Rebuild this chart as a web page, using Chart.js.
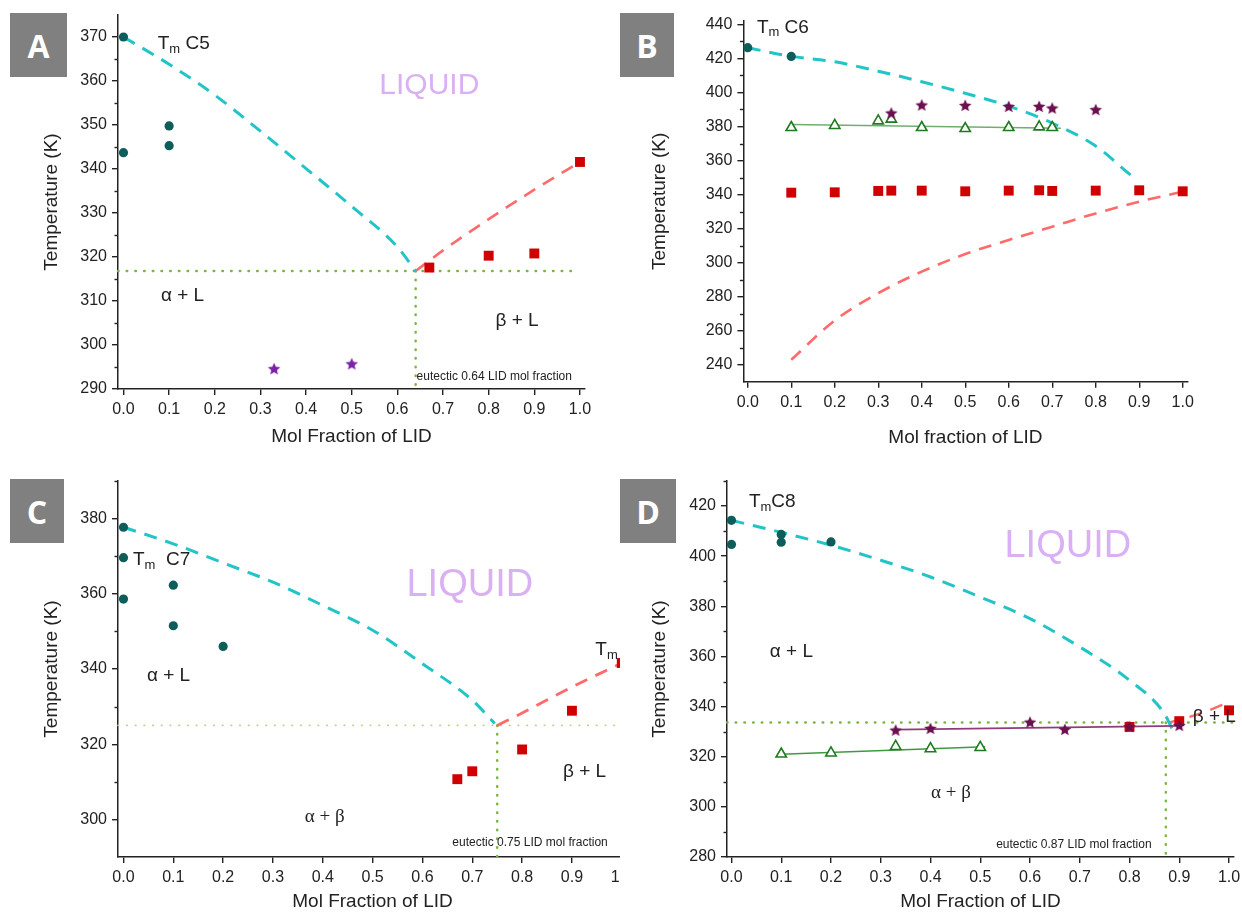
<!DOCTYPE html>
<html>
<head>
<meta charset="utf-8">
<script src="https://cdn.jsdelivr.net/npm/chart.js@4/dist/chart.umd.min.js"></script>
<style>
  html, body { margin: 0; padding: 0; background: #fff; overflow: hidden; width: 1242px; height: 913px; position: relative; }
  canvas { position: absolute; }
  #cD { background: #fff; }
  .badge { position: absolute; background: #808080; color: #fff; font: bold 32px "Open Sans", sans-serif;
           display: flex; align-items: center; justify-content: center; }
</style>
</head>
<body>
<canvas id="cA"></canvas>
<canvas id="cB"></canvas>
<canvas id="cC"></canvas>
<canvas id="cD"></canvas>
<div class="badge" style="left:10px;top:13px;width:57px;height:64px">A</div>
<div class="badge" style="left:620px;top:13px;width:54px;height:64px">B</div>
<div class="badge" style="left:10px;top:479px;width:54px;height:64px">C</div>
<div class="badge" style="left:620px;top:479px;width:56px;height:64px">D</div>
<script>
// shared ticks
const xTicks = [0, 0.1, 0.2, 0.3, 0.4, 0.5, 0.6, 0.7, 0.8, 0.9, 1.0];

// A : C5 + LID
const aYTicks = [290, 300, 310, 320, 330, 340, 350, 360, 370];
const aYMinor = [295, 305, 315, 325, 335, 345, 355, 365];
const aCircles = [[0, 370], [0, 343.7], [0.1, 349.8], [0.1, 345.3]];
const aSquares = [[0.67, 317.6], [0.8, 320.3], [0.9, 320.8], [1.0, 341.6]];
const aStars = [[0.33, 294.5], [0.5, 295.6]];
const aLiquidus = [[0, 370], [0.1, 363.8], [0.2, 356.8], [0.3, 348.6], [0.4, 340.1], [0.5, 331.5], [0.6, 322.3], [0.64, 316.8]];
const aSolidus = [[0.64, 316.8], [0.7, 321.5], [0.8, 328.6], [0.9, 335.3], [1.0, 341.6]];
const aEutH = [[-0.012, 316.8], [0.995, 316.8]];
const aEutV = [[0.64, 316.8], [0.64, 290]];

// B : C6 + LID
const bYTicks = [240, 260, 280, 300, 320, 340, 360, 380, 400, 420, 440];
const bYMinor = [250, 270, 290, 310, 330, 350, 370, 390, 410, 430];
const bCircles = [[0, 426.3], [0.1, 421.2]];
const bTriangles = [[0.1, 379.4], [0.2, 380.6], [0.3, 383.3], [0.33, 384.3], [0.4, 379.4], [0.5, 378.8], [0.6, 379.4], [0.67, 379.8], [0.7, 379.4]];
const bStars = [[0.33, 387.6], [0.4, 392.3], [0.5, 392.1], [0.6, 391.5], [0.67, 391.5], [0.7, 390.5], [0.8, 389.6]];
const bSquares = [[0.1, 341.1], [0.2, 341.3], [0.3, 342.1], [0.33, 342.3], [0.4, 342.3], [0.5, 341.9], [0.6, 342.3], [0.67, 342.5], [0.7, 342.1], [0.8, 342.3], [0.9, 342.5], [1.0, 341.9]];
const bTrend = [[0.1, 381.2], [0.72, 379.0]];
const bLiquidus = [[0, 426.3], [0.1, 421.2], [0.2, 418], [0.3, 412.5], [0.4, 406.3], [0.5, 399.5], [0.6, 392], [0.7, 382], [0.8, 368.5], [0.88, 351.5]];
const bSolidus = [[0.1, 242.9], [0.2, 266], [0.3, 282], [0.4, 294.7], [0.5, 305], [0.6, 313.3], [0.7, 321.1], [0.8, 328.9], [0.9, 335.8], [1.0, 341.7]];

// C : C7 + LID
const cYTicks = [300, 320, 340, 360, 380];
const cYMinor = [310, 330, 350, 370, 390];
const cCircles = [[0, 377.7], [0, 369.6], [0, 358.6], [0.1, 362.3], [0.1, 351.5], [0.2, 346]];
const cSquares = [[0.67, 310.7], [0.7, 312.8], [0.8, 318.6], [0.9, 328.9], [1.0, 341.6]];
const cLiquidus = [[0, 377.7], [0.1, 373.3], [0.2, 368.2], [0.3, 363.1], [0.4, 356.9], [0.5, 350.3], [0.6, 341.4], [0.7, 331.7], [0.745, 325.5]];
const cSolidus = [[0.75, 325], [0.8, 328.3], [0.9, 335.2], [1.0, 341.6]];
const cEutH = [[-0.011, 325], [1.01, 325]];
const cEutV = [[0.75, 325], [0.75, 290]];

// D : C8 + LID
const dYTicks = [280, 300, 320, 340, 360, 380, 400, 420];
const dYMinor = [290, 310, 330, 350, 370, 390, 410, 430];
const dCircles = [[0, 414.3], [0, 404.7], [0.1, 408.7], [0.1, 405.6], [0.2, 405.7]];
const dTriangles = [[0.1, 321.1], [0.2, 321.5], [0.33, 324.1], [0.4, 323.2], [0.5, 323.7]];
const dStars = [[0.33, 330.4], [0.4, 331.1], [0.6, 333.6], [0.67, 330.7], [0.8, 331.8], [0.9, 332.3]];
const dSquares = [[0.8, 331.9], [0.9, 334.2], [1.0, 338.5]];
const dTrendG = [[0.1, 321.0], [0.51, 324.0]];
const dTrendM = [[0.33, 330.8], [0.9, 332.3]];
const dLiquidus = [[0, 414.3], [0.1, 409.5], [0.2, 404.4], [0.3, 398.4], [0.4, 391.7], [0.5, 383.7], [0.6, 375.1], [0.7, 363.8], [0.8, 350.5], [0.87, 337.2], [0.89, 329.2]];
const dSolidus = [[0.878, 333.5], [0.95, 337.8], [0.99, 341]];
const dEutH = [[-0.009, 333.7], [1.01, 333.7]];
const dEutV = [[0.873, 333.7], [0.873, 280]];

const F = '"Liberation Sans", Arial, sans-serif';
const SERIF = '"Liberation Serif", "Times New Roman", serif';
const TEAL = '#0d5e5b', RED = '#d10000', CYAN = '#22c4c8', SALMON = '#ff6a6a', DOT = '#7ab640';
const LILAC = '#dab0f4';

function starImg(color, r) {
  const c = document.createElement('canvas');
  const s = Math.ceil(r * 2) + 2;
  c.width = c.height = s;
  const g = c.getContext('2d');
  g.fillStyle = color;
  g.beginPath();
  for (let i = 0; i < 10; i++) {
    const rr = i % 2 ? r * 0.45 : r;
    const a = -Math.PI / 2 + i * Math.PI / 5;
    g.lineTo(s / 2 + rr * Math.cos(a), s / 2 + rr * Math.sin(a));
  }
  g.closePath();
  g.fill();
  return c;
}

const pts = a => a.map(([x, y]) => ({x, y}));
const circles = d => ({data: pts(d), pointStyle: 'circle', pointRadius: 4.6, backgroundColor: TEAL, borderColor: TEAL, borderWidth: 0, order: 1, clip: false});
const squares = d => ({data: pts(d), pointStyle: 'rect', pointRadius: 7, backgroundColor: RED, borderColor: RED, borderWidth: 0, order: 1, clip: false});
const stars = (d, col) => ({data: pts(d), pointStyle: starImg(col, 6.6), order: 0, clip: false});
const triangles = d => ({data: pts(d), pointStyle: 'triangle', pointRadius: 6, backgroundColor: '#fff', borderColor: '#1f7a1f', borderWidth: 1.6, order: 1, clip: false});
const line = (d, col, w, dash, smooth) => ({data: pts(d), showLine: true, pointRadius: 0, borderColor: col, borderWidth: w,
  borderDash: dash || [], borderCapStyle: 'butt', cubicInterpolationMode: smooth ? 'monotone' : 'default', order: 5, clip: false});
const dotted = (d, col, w) => ({data: pts(d), showLine: true, pointRadius: 0, borderColor: col || DOT, borderWidth: w || 2.5,
  borderDash: [0.5, 8.2], borderCapStyle: 'round', order: 6, clip: false});

const tm = (rest) => [{s: 'T', size: 19}, {s: 'm', size: 13, dy: 5}, {s: rest, size: 19}];
const txt = (s, size, family) => [{s, size, family}];

// region labels + short minor ticks on the y axis
const notePlugin = {
  id: 'notes',
  afterDatasetsDraw(chart, args, opts) {
    const {ctx} = chart, sx = chart.scales.x, sy = chart.scales.y;
    ctx.save();
    ctx.strokeStyle = '#222';
    ctx.lineWidth = 1.4;
    (opts.minor || []).forEach(v => {
      const py = Math.round(sy.getPixelForValue(v)) + 0.5;
      ctx.beginPath();
      ctx.moveTo(sx.left - 3.5, py);
      ctx.lineTo(sx.left, py);
      ctx.stroke();
    });
    ctx.textBaseline = 'middle';
    ctx.textAlign = 'left';
    (opts.items || []).forEach(n => {
      let px = sx.getPixelForValue(n.x);
      const py = sy.getPixelForValue(n.y);
      ctx.fillStyle = n.color || '#222';
      let total = 0;
      n.parts.forEach(p => { ctx.font = p.size + 'px ' + (p.family || F); total += ctx.measureText(p.s).width; });
      if (n.align === 'center') px -= total / 2;
      n.parts.forEach(p => {
        ctx.font = p.size + 'px ' + (p.family || F);
        ctx.fillText(p.s, px, py + (p.dy || 0));
        px += ctx.measureText(p.s).width;
      });
    });
    ctx.restore();
  }
};

function makeChart(id, P) {
  const cv = document.getElementById(id);
  cv.width = P.w; cv.height = P.h;
  cv.style.left = P.left + 'px'; cv.style.top = P.top + 'px';
  cv.style.width = P.w + 'px'; cv.style.height = P.h + 'px';
  const yW = P.area.l - P.left;
  const xH = P.top + P.h - P.area.b;
  const axisFont = {size: 16, family: F};
  const titleFont = {size: 19, family: F};
  const grid = {drawOnChartArea: false, drawTicks: true, tickLength: 6, color: '#222', lineWidth: 1.4};
  const border = {display: true, color: '#222', width: 1.5};
  new Chart(cv, {
    type: 'scatter',
    data: {datasets: P.datasets},
    options: {
      responsive: false, animation: false, devicePixelRatio: 1,
      layout: {padding: {left: 0, top: P.area.t - P.top, right: P.left + P.w - P.area.r, bottom: 0}},
      plugins: {legend: {display: false}, tooltip: {enabled: false}, notes: {items: P.notes, minor: P.yMinor}},
      scales: {
        x: {
          type: 'linear', min: P.xMin, max: P.xMax,
          afterBuildTicks: s => { s.ticks = xTicks.map(v => ({value: v})); },
          afterFit: s => { s.height = xH; s.paddingLeft = 0; s.paddingRight = 0; },
          ticks: {callback: v => v.toFixed(1), font: axisFont, color: '#222', padding: 5, maxRotation: 0, autoSkip: false},
          grid, border,
          title: {display: true, text: P.xTitle, font: titleFont, color: '#222',
                  padding: {top: 0, bottom: Math.max(0, P.top + P.h - P.xTitleY - 11.4)}}
        },
        y: {
          type: 'linear', min: P.yMin, max: P.yMax,
          afterBuildTicks: s => { s.ticks = P.yTicks.map(v => ({value: v})); },
          afterFit: s => { s.width = yW; s.paddingTop = 0; s.paddingBottom = 0; },
          ticks: {callback: v => String(v), font: axisFont, color: '#222', padding: 5, autoSkip: false},
          grid, border,
          title: {display: true, text: 'Temperature (K)', font: titleFont, color: '#222',
                  padding: {top: Math.max(0, P.yTitleX - P.left - 11.4), bottom: 0}}
        }
      }
    },
    plugins: [notePlugin]
  });
}

makeChart('cA', {
  left: 0, top: 0, w: 620, h: 452, area: {l: 118, t: 15, r: 585, b: 389},
  xMin: -0.012, xMax: 1.011, yMin: 290, yMax: 375, yTicks: aYTicks, yMinor: aYMinor,
  xTitle: 'Mol Fraction of LID', xTitleY: 437, yTitleX: 52,
  datasets: [
    circles(aCircles), squares(aSquares), stars(aStars, '#7a22a8'),
    line(aLiquidus, CYAN, 3, [13, 9], true), line(aSolidus, SALMON, 2.6, [13, 9], true),
    dotted(aEutH), dotted(aEutV)
  ],
  notes: [
    {x: 0.075, y: 368.4, parts: tm(' C5')},
    {x: 0.67, y: 358.9, parts: txt('LIQUID', 30), color: LILAC, align: 'center'},
    {x: 0.082, y: 311.3, parts: txt('α + L', 19)},
    {x: 0.815, y: 305.6, parts: txt('β + L', 19)},
    {x: 0.642, y: 292.7, parts: txt('eutectic 0.64 LID mol fraction', 12)}
  ]
});

makeChart('cB', {
  left: 620, top: 0, w: 622, h: 452, area: {l: 743.4, t: 21, r: 1187.5, b: 381.7},
  xMin: -0.01, xMax: 1.011, yMin: 230, yMax: 442, yTicks: bYTicks, yMinor: bYMinor,
  xTitle: 'Mol fraction of LID', xTitleY: 438, yTitleX: 660,
  datasets: [
    circles(bCircles), stars(bStars, '#6b0f4f'), triangles(bTriangles), squares(bSquares),
    line(bTrend, '#6fae6f', 1.6),
    line(bLiquidus, CYAN, 3, [13, 9], true), line(bSolidus, SALMON, 2.6, [13, 9], true)
  ],
  notes: [
    {x: 0.021, y: 438.2, parts: tm(' C6')}
  ]
});

makeChart('cC', {
  left: 0, top: 460, w: 640, h: 453, area: {l: 118, t: 481, r: 627, b: 857},
  xMin: -0.011, xMax: 1.0105, yMin: 290, yMax: 390, yTicks: cYTicks, yMinor: cYMinor,
  xTitle: 'Mol Fraction of LID', xTitleY: 903, yTitleX: 52,
  datasets: [
    circles(cCircles), squares(cSquares),
    line(cLiquidus, CYAN, 3, [13, 9], true), line(cSolidus, SALMON, 2.8, [13, 9], true),
    dotted(cEutH, '#b8d08a', 1.6), dotted(cEutV)
  ],
  notes: [
    {x: 0.019, y: 369, parts: tm('  C7')},
    {x: 0.695, y: 362.3, parts: txt('LIQUID', 38), color: LILAC, align: 'center'},
    {x: 0.047, y: 338.1, parts: txt('α + L', 19)},
    {x: 0.364, y: 300.6, parts: txt('α + β', 19, SERIF)},
    {x: 0.882, y: 312.6, parts: txt('β + L', 19)},
    {x: 0.947, y: 345, parts: tm('')},
    {x: 0.66, y: 293.7, parts: txt('eutectic 0.75 LID mol fraction', 12)}
  ]
});

makeChart('cD', {
  left: 620, top: 460, w: 640, h: 453, area: {l: 727, t: 481, r: 1234, b: 857},
  xMin: -0.009, xMax: 1.01, yMin: 280, yMax: 430, yTicks: dYTicks, yMinor: dYMinor,
  xTitle: 'Mol Fraction of LID', xTitleY: 903, yTitleX: 660,
  datasets: [
    circles(dCircles), stars(dStars, '#6b0f4f'), triangles(dTriangles), squares(dSquares),
    line(dTrendG, '#3f9a3f', 1.5), line(dTrendM, '#8e3d7a', 1.6),
    line(dLiquidus, CYAN, 3, [13, 9], true), line(dSolidus, SALMON, 2.4, [13, 9], true),
    dotted(dEutH), dotted(dEutV)
  ],
  notes: [
    {x: 0.035, y: 421.6, parts: tm('C8')},
    {x: 0.676, y: 404, parts: txt('LIQUID', 38), color: LILAC, align: 'center'},
    {x: 0.077, y: 361.7, parts: txt('α + L', 19)},
    {x: 0.401, y: 305.4, parts: txt('α + β', 19, SERIF)},
    {x: 0.927, y: 335.8, parts: txt('β + L', 19)},
    {x: 0.532, y: 285.1, parts: txt('eutectic 0.87 LID mol fraction', 12)}
  ]
});
</script>
</body>
</html>
